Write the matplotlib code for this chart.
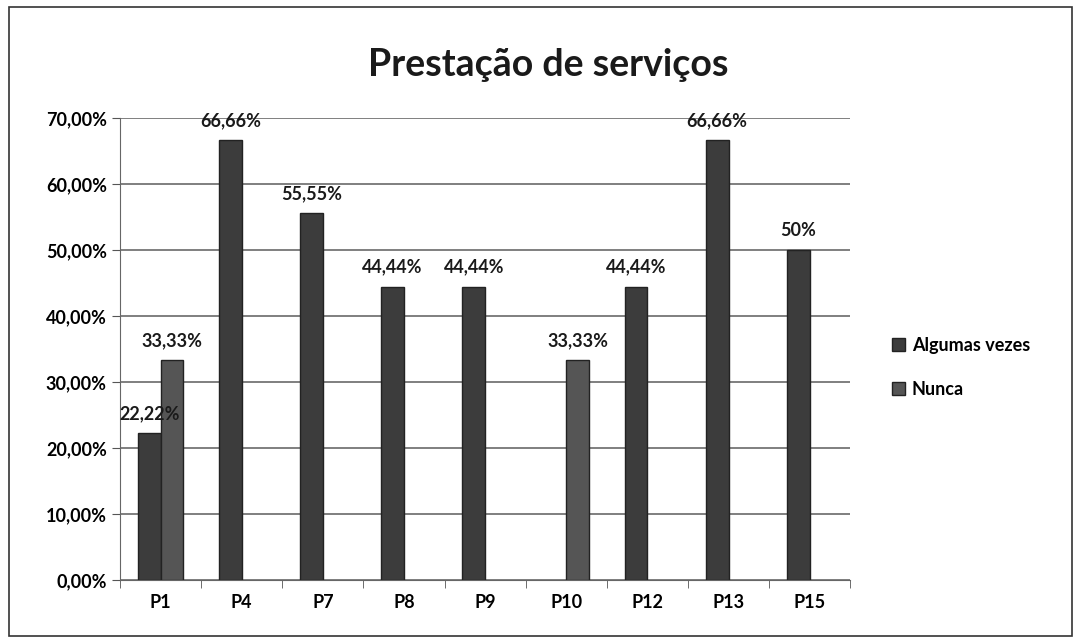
import matplotlib
import matplotlib.pyplot as plt
import numpy as np
from matplotlib.patches import Rectangle

matplotlib.use("Agg")

categories = ["P1", "P4", "P7", "P8", "P9", "P10", "P12", "P13", "P15"]
algumas_vezes = [22.22, 66.66, 55.55, 44.44, 44.44, 0, 44.44, 66.66, 50]
nunca = [33.33, 0, 0, 0, 0, 33.33, 0, 0, 0]
algumas_labels = ["22,22%", "66,66%", "55,55%", "44,44%", "44,44%", "", "44,44%", "66,66%", "50%"]
nunca_labels = ["33,33%", "", "", "", "", "33,33%", "", "", ""]
y_ticks = [0, 10, 20, 30, 40, 50, 60, 70]

plt.rcParams["font.family"] = ["Lato", "DejaVu Sans"]
plt.rcParams["font.weight"] = "bold"

fig = plt.figure(figsize=(10.74, 6.39), dpi=100)
fig.patch.set_facecolor("white")
ax = fig.add_axes([0.1117, 0.0923, 0.68, 0.723])

x = np.arange(len(categories))
w = 0.28
c_alg = "#3c3c3c"
c_nun = "#555555"
b1 = ax.bar(x - w / 2, algumas_vezes, w, color=c_alg,
            edgecolor=["#222222" if v else "none" for v in algumas_vezes],
            linewidth=1, label="Algumas vezes", zorder=3)
b2 = ax.bar(x + w / 2, nunca, w, color=c_nun,
            edgecolor=["#222222" if v else "none" for v in nunca],
            linewidth=1, label="Nunca", zorder=3)

for bars, labels in ((b1, algumas_labels), (b2, nunca_labels)):
    for rect, lab in zip(bars, labels):
        if not lab:
            continue
        ax.annotate(lab, (rect.get_x() + rect.get_width() / 2, rect.get_height()),
                    xytext=(0, 8), textcoords="offset points", ha="center",
                    va="bottom", fontsize=13, fontweight="bold", color="#1a1a1a",
                    zorder=4)

ax.set_xlim(-0.5, len(categories) - 0.5)
ax.set_ylim(0, 70)
ax.set_yticks(y_ticks)
ax.set_yticklabels([f"{v},00%" for v in y_ticks], fontsize=13, fontweight="bold")
ax.set_xticks(x)
ax.set_xticklabels(categories, fontsize=13, fontweight="bold")
ax.tick_params(axis="x", length=0, pad=10)
ax.set_xticks(np.arange(-0.5, len(categories)), minor=True)
ax.tick_params(axis="x", which="minor", length=6, color="#555555", direction="out")
ax.tick_params(axis="y", length=6, color="#555555", direction="out")
ax.yaxis.grid(True, color="#6a6a6a", linewidth=1.2, zorder=0)
for side in ("top", "right"):
    ax.spines[side].set_visible(False)
ax.spines["left"].set_color("#666666")
ax.spines["bottom"].set_color("#666666")

ax.set_title("Prestação de serviços", fontsize=27, fontweight="bold",
             color="#1a1a1a", pad=30, x=0.586)

ax.legend(loc="center left", bbox_to_anchor=(1.035, 0.46), frameon=False,
          fontsize=13, handlelength=0.7, handleheight=0.7,
          handletextpad=0.4, labelspacing=1.5)

fig.patches.append(Rectangle((0.008, 0.004), 0.99, 0.985, transform=fig.transFigure,
                             fill=False, edgecolor="#333333", linewidth=1.2))

fig.savefig("out.png", dpi=100, facecolor="white")
plt.close(fig)
